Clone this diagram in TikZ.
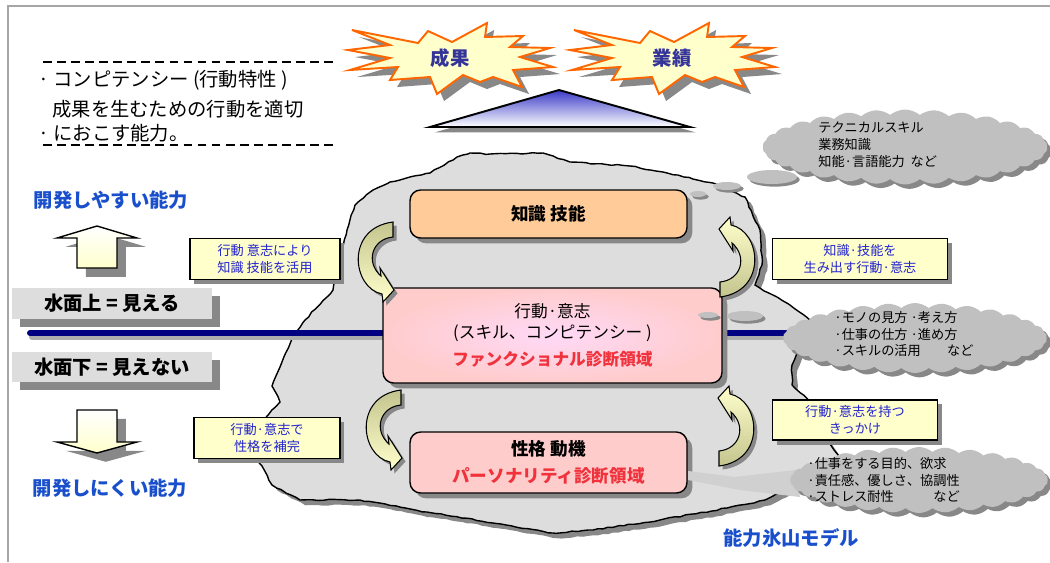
\documentclass[tikz,border=0pt]{standalone}
\usepackage{fontspec}
\setmainfont{Noto Sans CJK JP}
\usetikzlibrary{shapes.symbols,shadows,decorations.pathmorphing}
\definecolor{framegray}{HTML}{A6A6A6}
\definecolor{burstorange}{HTML}{FF6600}
\definecolor{cream}{HTML}{FFFFCC}
\definecolor{khaki}{HTML}{C4C48E}
\definecolor{icegray}{HTML}{DDDDDD}
\definecolor{shadowgray}{HTML}{888888}
\definecolor{cloudgray}{HTML}{C0C0C0}
\definecolor{sea}{HTML}{000080}
\definecolor{peach}{HTML}{FFCC99}
\definecolor{rose}{HTML}{FFCCCC}
\definecolor{lilac}{HTML}{FFD9F7}
\definecolor{labelblue}{HTML}{2323D0}
\definecolor{headblue}{HTML}{1A4FCC}
\definecolor{navytext}{HTML}{333399}
\definecolor{redtext}{HTML}{F0323C}
\definecolor{peak}{HTML}{3A3AC8}
\pgfmathsetseed{11}

\begin{document}
\begin{tikzpicture}[x=0.02cm,y=-0.02cm,
  shadowed/.style={drop shadow={shadow xshift=#1,shadow yshift=-#1,opacity=1,fill=shadowgray}},
  shadowed/.default=3pt,
  burst/.style={draw=burstorange,line width=1.1pt,fill=cream,shadowed=4pt},
  bursttext/.style={text=navytext,font=\fontsize{11}{13}\selectfont\bfseries},
  ice/.style={draw,fill=icegray,line width=0.8pt,shadowed=3pt,decorate,
    decoration={random steps,segment length=3pt,amplitude=0.4pt}},
  layer/.style={draw,line width=0.8pt,rounded corners=6pt,shadowed=3pt,align=center},
  tag/.style={draw,line width=0.8pt,fill=cream,text=labelblue,align=center,
    font=\fontsize{7.5}{9.5}\selectfont,shadowed=2.5pt},
  waterbox/.style={fill=icegray,minimum width=4cm,font=\fontsize{11}{13}\selectfont\bfseries,shadowed=4.5pt},
  headline/.style={text=headblue,font=\fontsize{11}{13}\selectfont\bfseries},
  note/.style={anchor=west,inner sep=0pt,align=left,font=\fontsize{7.5}{9.6}\selectfont},
  bubble/.style={cloud,cloud puffs=30,cloud puff arc=80,aspect=4,fill=cloudgray,shadowed=2.5pt},
  block/.style={draw,line width=0.8pt,top color=white,bottom color=cream,shadowed=5pt},
  dashline/.style={line width=1.4pt,dash pattern=on 5pt off 3pt}]

  \useasboundingbox (0,0) rectangle (1050,562);
  \draw[framegray,line width=1.2pt] (8,562) -- (8,6) -- (1050,6);

  \draw[dashline] (43,62) -- (333,62);
  \draw[dashline] (43,145) -- (333,145);
  \node[anchor=west,inner sep=0pt,font=\fontsize{11}{13}\selectfont] (comp) at (38,80) {· コンピテンシー (行動特性 )};
  \node[anchor=west,inner sep=0pt,font=\fontsize{11}{13}\selectfont] (compa) at (52,109) {成果を生むための行動を適切};
  \node[anchor=west,inner sep=0pt,font=\fontsize{11}{13}\selectfont] (compb) at (38,133) {· におこす能力。};

  \foreach \cx/\nm/\txt in {450/result/成果,672/record/業績}{
    \draw[burst,shift={(\cx,58)}] (-98,-28) -- (-32,-15) -- (-22,-27) -- (2,-16) -- (37,-35) -- (35,-21)
      -- (73,-22) -- (60,-11) -- (100,-10) -- (70,-1) -- (103,9) -- (63,12) -- (72,29) -- (43,19)
      -- (30,24) -- (13,17) -- (-13,36) -- (-20,19) -- (-60,22) -- (-52,9) -- (-100,12) -- (-60,0)
      -- (-102,-8) -- (-60,-13) -- cycle;
    \node[bursttext] (\nm) at (\cx,58) {\txt};
  }
  \draw[line width=1.1pt,top color=peak,bottom color=white,shadowed=3pt] (559,90) -- (690,127) -- (430,127) -- cycle;

  \draw[ice] (373,190) -- (390,182) -- (430,173) -- (457,157) -- (470,153) -- (490,154) -- (543,153)
    -- (570,162) -- (630,166) -- (663,172) -- (713,183) -- (745,197) -- (760,230) -- (762,265)
    -- (755,285) -- (790,305) -- (812,322) -- (800,345) -- (792,365) -- (792,385) -- (810,402)
    -- (820,428) -- (840,458) -- (800,482) -- (765,500) -- (727,508) -- (660,520) -- (593,530)
    -- (553,533) -- (493,523) -- (427,512) -- (360,500) -- (300,500) -- (272,485) -- (255,455)
    -- (262,422) -- (280,402) -- (272,386) -- (280,367) -- (293,335) -- (305,320) -- (333,290)
    -- (340,260) -- (347,230) -- (355,205) -- cycle;

  \draw[cloudgray!90!black,line width=3.4pt,line cap=round] (32,337) -- (797,337);
  \draw[sea,line width=3.4pt,line cap=round] (30,333) -- (795,333);

  \node[layer,fill=peach,minimum width=5.54cm,minimum height=0.96cm,
    font=\fontsize{10}{12}\selectfont\bfseries] (skill) at (548.5,214) {知識 技能};
  \node[layer,inner color=lilac,outer color=rose,minimum width=6.78cm,minimum height=1.9cm,
    font=\fontsize{9.5}{11.5}\selectfont] (action) at (552.5,335.5)
    {行動·意志\\(スキル、コンピテンシー )\\[4pt]{\color{redtext}\bfseries ファンクショナル診断領域}};
  \node[layer,fill=rose,minimum width=5.54cm,minimum height=1.22cm,
    font=\fontsize{10}{12}\selectfont\bfseries] (persona) at (548.5,462.5)
    {性格 動機\\[3pt]{\color{redtext}パーソナリティ診断領域}};

  \foreach \x/\y/\turn/\up/\dn in {393/222/0/khaki/cream,401/390/0/khaki/cream,720/297/180/cream/khaki,719/466/180/cream/khaki}
    \draw[line width=0.6pt,shift={(\x,\y)},rotate=\turn,top color=\up,bottom color=\dn,shadowed=2pt]
      (0,0) -- (0,15) .. controls (-21,17) and (-28,40) .. (-12,54) -- (-13,46) -- (1,68)
      -- (-10,80) -- (-11,72) .. controls (-41,66) and (-48,6) .. (0,0) -- cycle;

  \node[tag,minimum width=3cm,minimum height=0.76cm] (useskill) at (265,259) {行動 意志により\\知識 技能を活用};
  \node[tag,minimum width=2.92cm,minimum height=0.7cm] (complement) at (267,438) {行動·意志で\\性格を補完};
  \node[tag,minimum width=3.5cm,minimum height=0.76cm] (produce) at (860,259) {知識·技能を\\生み出す行動·意志};
  \node[tag,minimum width=3.3cm,minimum height=0.74cm] (trigger) at (855,420) {行動·意志を持つ\\きっかけ};

  \fill[cloudgray,shadowed=1.5pt] (698,194) ellipse [x radius=8,y radius=3];
  \fill[cloudgray,shadowed=1.5pt] (727,186) ellipse [x radius=14,y radius=4];
  \fill[cloudgray,shadowed=1.5pt] (772,177) ellipse [x radius=25,y radius=7];
  \node[bubble,minimum width=5.7cm,minimum height=1.5cm] (techcloud) at (905,147) {};
  \node[note] (technote) at (818,145) {テクニカルスキル\\業務知識\\知能·言語能力\ \ など};

  \fill[cloudgray,shadowed=1.5pt] (708,315) ellipse [x radius=10,y radius=3];
  \fill[cloudgray,shadowed=1.5pt] (745,316) ellipse [x radius=18,y radius=5];
  \node[bubble,minimum width=5.28cm,minimum height=1.4cm] (actcloud) at (915,338) {};
  \node[note] (actnote) at (834,334) {·モノの見方 ·考え方\\·仕事の仕方 ·進め方\\·スキルの活用\quad\quad など};

  \fill[cloudgray!75] (688,471) -- (735,477) -- (795,470) -- (800,497) -- (740,490) -- (688,480) -- cycle;
  \node[bubble,minimum width=5.16cm,minimum height=1.32cm] (perscloud) at (919,480) {};
  \node[note] (persnote) at (807,480) {·仕事をする目的、欲求\\·責任感、優しさ、協調性\\·ストレス耐性\quad\quad\quad など};

  \node[headline] (easy) at (111,200) {開発しやすい能力};
  \draw[block] (97,226) -- (137,238) -- (117,238) -- (117,268) -- (77,268) -- (77,238) -- (57,238) -- cycle;
  \node[waterbox,minimum height=0.54cm] (above) at (112,303.5) {水面上 = 見える};
  \node[waterbox,minimum height=0.56cm] (below) at (112,367) {水面下 = 見えない};
  \draw[block] (77,410) -- (117,410) -- (117,442) -- (137,442) -- (97,453) -- (57,442) -- (77,442) -- cycle;
  \node[headline] (hard) at (110,488) {開発しにくい能力};

  \node[headline] (model) at (791,538) {能力氷山モデル};
\end{tikzpicture}
\end{document}
